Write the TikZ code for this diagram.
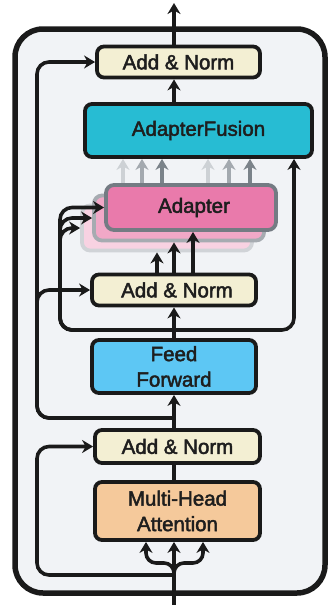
\documentclass[tikz,border=0pt]{standalone}
\usepackage{fontspec}
\setmainfont{Liberation Sans}
\newfontfamily\labelfont[FakeBold=2.2]{Liberation Sans}
\usetikzlibrary{arrows.meta}
\pgfdeclarelayer{framelayer}
\pgfdeclarelayer{under}
\pgfsetlayers{framelayer,under,main}

\definecolor{linec}{HTML}{1A1A1A}
\definecolor{txt}{HTML}{1E1E1E}
\definecolor{bgc}{HTML}{F1F3F6}
\definecolor{cream}{HTML}{F3EFD3}
\definecolor{fusion}{HTML}{27BCD3}
\definecolor{adpA}{HTML}{E97AAB}
\definecolor{adpB}{HTML}{F1A8C7}
\definecolor{adpC}{HTML}{F8D2E2}
\definecolor{bordA}{HTML}{747B83}
\definecolor{bordB}{HTML}{A6ABB1}
\definecolor{bordC}{HTML}{D0D3D7}
\definecolor{ffc}{HTML}{5DC7F4}
\definecolor{mhac}{HTML}{F5C99B}
\definecolor{gA}{HTML}{CDD1D5}
\definecolor{gB}{HTML}{A3A9AF}
\definecolor{gC}{HTML}{7B838A}

\tikzset{
  box/.style={draw=linec, line width=3.8pt, rounded corners=7pt, inner sep=0pt,
    align=center, text=txt, font=\labelfont\fontsize{20.5}{25.5}\selectfont},
  anbox/.style={box, fill=cream, minimum height=31pt},
  adbox/.style={box, rounded corners=8pt, minimum width=170pt, minimum height=45pt},
  arr/.style={draw=linec, line width=3.6pt,
    -{Stealth[length=11pt,width=13pt,inset=3.5pt]}},
  plain/.style={draw=linec, line width=3.6pt},
  garr/.style={line width=3.4pt, -{Stealth[length=11pt,width=13pt,inset=3.5pt]}},
  frame/.style={draw=linec, fill=bgc, line width=5.5pt, rounded corners=28pt,
    inner sep=0pt}
}

\begin{document}
\begin{tikzpicture}[x=1pt,y=-1pt]
\useasboundingbox (0,0) rectangle (328,605);

% encoder layer frame
\begin{pgfonlayer}{framelayer}
  \node[frame, minimum width=310pt, minimum height=564pt] (layer) at (170,311) {};
\end{pgfonlayer}

% blocks
\node[anbox, minimum width=163pt] (topan) at (178.5,62) {Add \& Norm};
\node[box, fill=fusion, minimum width=227pt, minimum height=53pt] (af) at (198.5,130.5) {AdapterFusion};
\node[adbox, fill=adpC, draw=bordC] (back) at (167,228) {};
\node[adbox, fill=adpB, draw=bordB] (mid) at (179,218) {};
\node[adbox, fill=adpA, draw=bordA] (front) at (191,207.5) {\hspace*{6pt}Adapter};
\node[anbox, minimum width=164pt] (midan) at (174,290) {\hspace*{6pt}Add \& Norm};
\node[box, fill=ffc, minimum width=164pt, minimum height=53pt] (ff) at (174,366.5) {Feed\\Forward};
\node[anbox, minimum width=165pt, minimum height=33pt] (botan) at (177.5,446.5) {Add \& Norm};
\node[box, fill=mhac, minimum width=165pt, minimum height=58pt] (mha) at (177.5,511) {Multi-Head\\Attention};

% reference points of the connectors
\coordinate (ax) at (174,0);
\coordinate (out) at (174,3);
\coordinate (in) at (174,605);
\coordinate (g1) at (123,0);
\coordinate (g2) at (142,0);
\coordinate (g3) at (162,0);
\coordinate (g4) at (208,0);
\coordinate (g5) at (229,0);
\coordinate (g6) at (250,0);
\coordinate (a1) at (157,0);
\coordinate (a2) at (174,0);
\coordinate (a3) at (193,0);
\coordinate (sp) at (174,330);
\coordinate (lp) at (60,330);
\coordinate (rp) at (294,330);
\coordinate (rq) at (174,418);
\coordinate (lq) at (37,418);
\coordinate (rb) at (174,575);
\coordinate (lb) at (37,575);
\coordinate (tc) at (174,563);
\coordinate (tl) at (146,563);
\coordinate (tr) at (203,563);

% adapter outputs into the fusion layer
\begin{pgfonlayer}{under}
  \draw[garr, gA] (front.center -| g1) -- (af.south -| g1);
  \draw[garr, gB] (front.center -| g2) -- (af.south -| g2);
  \draw[garr, gC] (front.center -| g3) -- (af.south -| g3);
  \draw[garr, gA] (front.center -| g4) -- (af.south -| g4);
  \draw[garr, gB] (front.center -| g5) -- (af.south -| g5);
  \draw[garr, gC] (front.center -| g6) -- (af.south -| g6);
\end{pgfonlayer}

% main data path
\draw[arr] (in) -- (mha.south -| ax);
\draw[arr, rounded corners=10pt] (rb) -- (tc) -- (tl) -- (tl |- mha.south);
\draw[arr, rounded corners=10pt] (rb) -- (tc) -- (tr) -- (tr |- mha.south);
\draw[plain] (mha.north -| ax) -- (botan.south -| ax);
\draw[arr] (botan.north -| ax) -- (ff.south -| ax);
\draw[arr] (ff.north -| ax) -- (midan.south -| ax);
\draw[arr] (midan.north -| a1) -- (back.south -| a1);
\draw[arr] (midan.north -| a2) -- (mid.south -| a2);
\draw[arr] (midan.north -| a3) -- (front.south -| a3);
\draw[arr] (af.north -| ax) -- (topan.south -| ax);
\draw[arr] (topan.north -| ax) -- (out);

% residual connections
\draw[arr, rounded corners=12pt] (rb) -- (lb) -- (lb |- botan.west) -- (botan.west);
\draw[arr, rounded corners=12pt] (rq) -- (lq) -- (lq |- midan.west) -- (midan.west);
\draw[arr, rounded corners=12pt] (rq) -- (lq) -- (lq |- topan.west) -- (topan.west);

% feed-forward output to the adapters and to the fusion layer
\draw[arr, rounded corners=12pt] (sp) -- (lp) -- (lp |- front.west) -- (front.west);
\draw[arr, rounded corners=12pt] (sp) -- (lp) -- (lp |- mid.west) -- (mid.west);
\draw[arr, rounded corners=12pt] (sp) -- (lp) -- (lp |- back.west) -- (back.west);
\draw[arr, rounded corners=12pt] (sp) -- (rp) -- (rp |- af.south);
\end{tikzpicture}
\end{document}
